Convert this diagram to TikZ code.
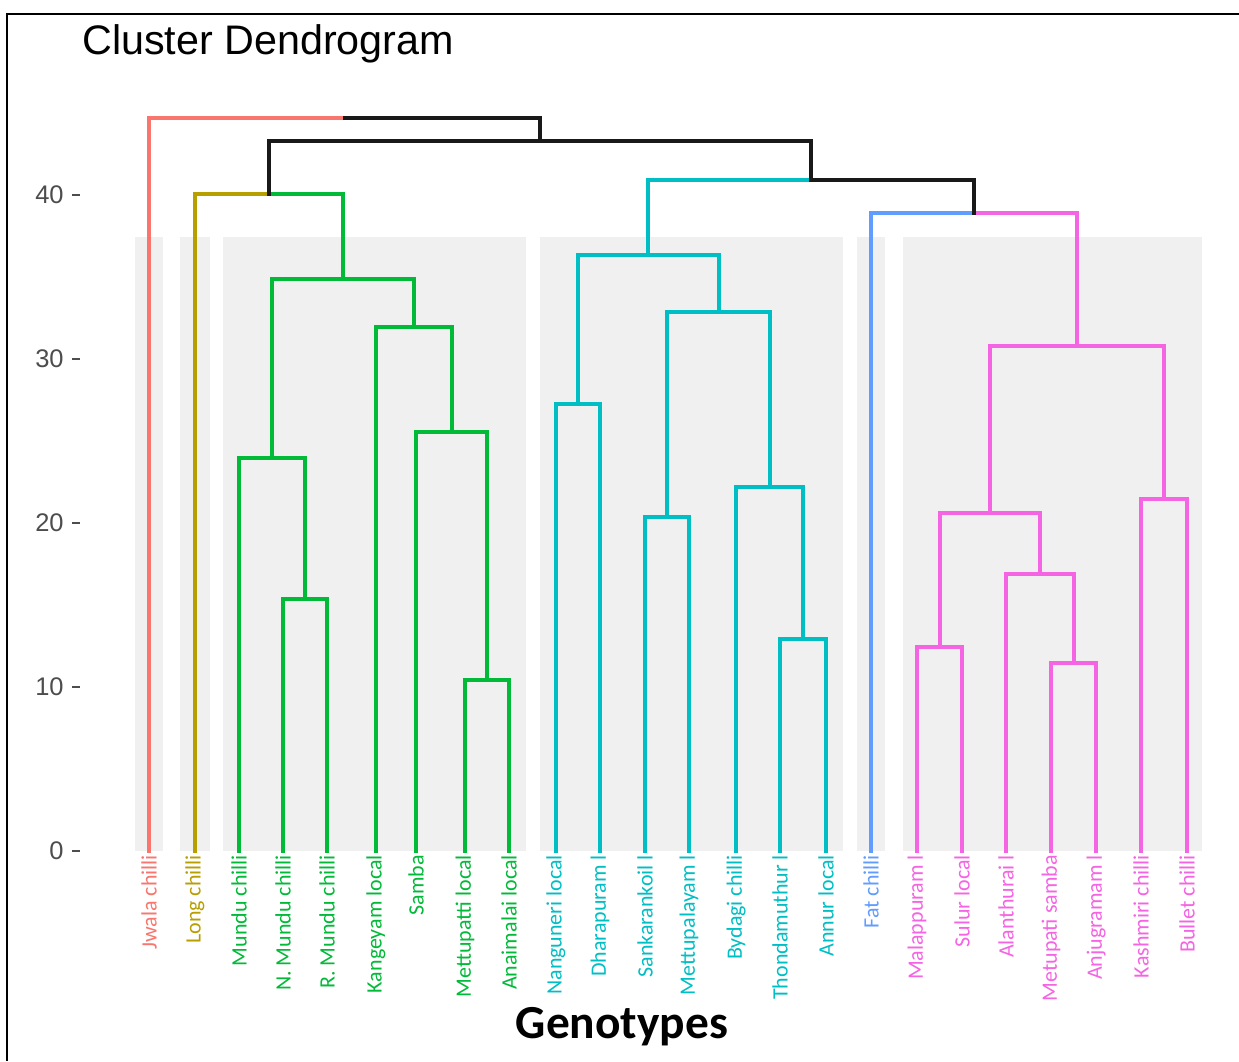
\documentclass[tikz,border=0pt]{standalone}
\usepackage{fontspec}
\setmainfont{Carlito}
\newfontfamily\arialf{Liberation Sans}
\definecolor{cred}{HTML}{F8766D}
\definecolor{cyel}{HTML}{B79F00}
\definecolor{cgrn}{HTML}{00BA38}
\definecolor{ccyn}{HTML}{00BFC4}
\definecolor{cblu}{HTML}{619CFF}
\definecolor{cmag}{HTML}{F564E3}
\definecolor{panel}{HTML}{F0F0F0}
\definecolor{ticktext}{HTML}{4D4D4D}
\begin{document}
\begin{tikzpicture}[x=0.02cm,y=-0.02cm,
  branch/.style={line width=1.9pt,line cap=rect},
  leaflabel/.style={rotate=90,anchor=east,inner sep=1pt,font=\fontsize{12.5}{12.5}\selectfont},
  ticklab/.style={anchor=east,text=ticktext,font=\arialf\fontsize{14.5}{14.5}\selectfont,inner sep=0pt},
  tickmark/.style={draw=ticktext,line width=1.2pt},
  bgpanel/.style={fill=panel,draw=none}]
\useasboundingbox (0,0) rectangle (1239,1061);
\fill[white] (0,0) rectangle (1239,1061);
% frame
\draw[line width=0.9pt] (7,1061) -- (7,14) -- (1239,14);
% title
\node[anchor=base west,inner sep=0pt,font=\arialf\fontsize{23.5}{24}\selectfont] (title) at (82,55) {Cluster Dendrogram};
% panels
\fill[bgpanel] (135,237) rectangle (163,851);
\fill[bgpanel] (180,237) rectangle (210,851);
\fill[bgpanel] (223,237) rectangle (526,851);
\fill[bgpanel] (540,237) rectangle (843,851);
\fill[bgpanel] (857,237) rectangle (885,851);
\fill[bgpanel] (903,237) rectangle (1202,851);
% y axis ticks
\foreach \v/\yy in {0/851,10/687,20/523,30/359,40/195}{
  \node[ticklab] (t\v) at (64,\yy) {\v};
  \draw[tickmark] (72,\yy) -- (80,\yy);
}
% leaves
\foreach \n/\xx in {jw/149,lo/195,mu/239,nm/283,rm/327,ka/376,sa/416,mp/465,an/509,
  ng/556,dh/600,sk/645,ml/689,by/736,th/780,ar/826,fa/871,ma/917,su/962,al/1006,ms/1051,aj/1096,ks/1141,bu/1187}{
  \coordinate (\n) at (\xx,851);
}
% merges
\coordinate (g1) at (305,599);
\coordinate (g2) at (272,458);
\coordinate (g3) at (487,680);
\coordinate (g4) at (452,432);
\coordinate (g5) at (414,327);
\coordinate (g6) at (343,279);
\coordinate (y1) at (269,194);
\coordinate (c1) at (578,404);
\coordinate (c2) at (803,639);
\coordinate (c3) at (770,487);
\coordinate (c4) at (667,517);
\coordinate (c5) at (719,312);
\coordinate (c6) at (648,255);
\coordinate (p1) at (940,647);
\coordinate (p2) at (1074,663);
\coordinate (p3) at (1040,574);
\coordinate (p4) at (990,513);
\coordinate (p5) at (1164,499);
\coordinate (p6) at (1077,346);
\coordinate (b1) at (974,213);
\coordinate (b2) at (811,180);
\coordinate (b3) at (540,141);
\coordinate (b4) at (345,118);
% branches
\foreach \a/\b in {nm/g1,rm/g1,mu/g2,g1/g2,mp/g3,an/g3,sa/g4,g3/g4,ka/g5,g4/g5,g2/g6,g5/g6,g6/y1}
  \draw[branch,cgrn] (\a) |- (\b);
\foreach \a/\b in {ng/c1,dh/c1,th/c2,ar/c2,by/c3,c2/c3,sk/c4,ml/c4,c4/c5,c3/c5,c1/c6,c5/c6,c6/b2}
  \draw[branch,ccyn] (\a) |- (\b);
\foreach \a/\b in {ma/p1,su/p1,ms/p2,aj/p2,al/p3,p2/p3,p1/p4,p3/p4,ks/p5,bu/p5,p4/p6,p5/p6,p6/b1}
  \draw[branch,cmag] (\a) |- (\b);
\draw[branch,cred] (jw) |- (b4);
\draw[branch,cyel] (lo) |- (y1);
\draw[branch,cblu] (fa) |- (b1);
\foreach \a/\b in {b3/b4,y1/b3,b2/b3,b1/b2}
  \draw[branch,black!90] (\a) |- (\b);
% labels
\foreach \n/\t/\c in {jw/Jwala chilli/cred,lo/Long chilli/cyel,
  mu/Mundu chilli/cgrn,nm/N. Mundu chilli/cgrn,rm/R. Mundu chilli/cgrn,ka/Kangeyam local/cgrn,
  sa/Samba/cgrn,mp/Mettupatti local/cgrn,an/Anaimalai local/cgrn,
  ng/Nanguneri local/ccyn,dh/Dharapuram l/ccyn,sk/Sankarankoil l/ccyn,ml/Mettupalayam l/ccyn,
  by/Bydagi chilli/ccyn,th/Thondamuthur l/ccyn,ar/Annur local/ccyn,
  fa/Fat chilli/cblu,
  ma/Malappuram l/cmag,su/Sulur local/cmag,al/Alanthurai l/cmag,ms/Metupati samba/cmag,
  aj/Anjugramam l/cmag,ks/Kashmiri chilli/cmag,bu/Bullet chilli/cmag}{
  \node[leaflabel,text=\c] (lab\n) at ([yshift=-0.04cm]\n) {\t};
}
% x axis title
\node[anchor=base,inner sep=0pt,font=\bfseries\fontsize{27}{27}\selectfont] (xtitle) at (622,1038) {Genotypes};
\end{tikzpicture}
\end{document}
